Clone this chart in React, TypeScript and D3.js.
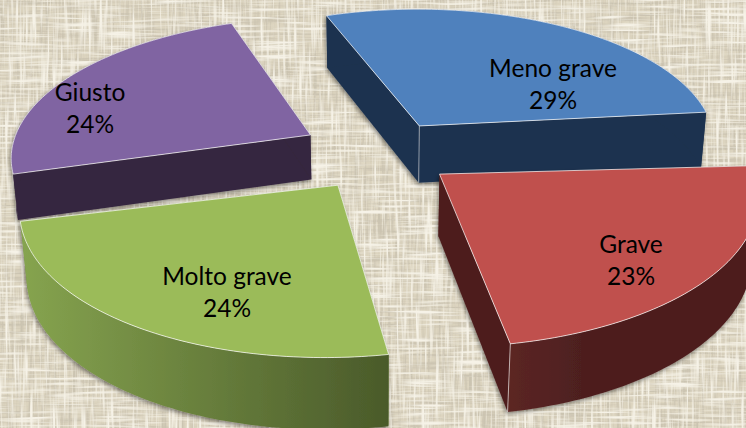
import React from "react";
import * as d3 from "d3";

const categories = ["Meno grave", "Grave", "Molto grave", "Giusto"];
const values = [29, 23, 24, 24];
const topColors = ["#4f81bd", "#c0504d", "#9bbb59", "#8064a2"];
const sideColors = ["#1f334f", "#4d1f1f", "#6d8840", "#35263f"];
const labelPos = [[553, 77], [631, 253], [227, 285], [90, 101]];

// perspective camera: world (x, y, z) to screen
const camU = [296.06, -77.2803, 6.40357, 382.594];
const camV = [9.51658, 117.649, 61.4249, 154.996];
const camW = [-6.9084e-3, -1.3237e-1, 1.6908e-2];
// exploded offset, depth, small rotation and radius of each slice
const offsets = [[0.10653, -0.22448], [0.19799, 0.12061], [-0.12558, 0.22208], [-0.25751, -0.12817]];
const depths = [1, 1.0625, 1.11303, 0.77778];
const turns = [-0.0336, 0.0176, 0.0263, -0.025];
const radii = [1.0076, 1.0373, 1.0122, 0.9974];

const START = (-23 * Math.PI) / 180;
const pie = d3.pie<number>().sort(null).startAngle(START).endAngle(START + 2 * Math.PI);
const arcs = pie(values);

function proj(x: number, y: number, z: number) {
  const w = camW[0] * x + camW[1] * y + camW[2] * z + 1;
  return [
    (camU[0] * x + camU[1] * y + camU[2] * z + camU[3]) / w,
    (camV[0] * x + camV[1] * y + camV[2] * z + camV[3]) / w,
  ];
}
function at(i: number, r: number, a0: number, z: number) {
  const a = a0 + turns[i];
  const rr = r * radii[i];
  return proj(offsets[i][0] + rr * Math.sin(a), offsets[i][1] - rr * Math.cos(a), z * depths[i]);
}
function arcPts(i: number, z: number, n = 80) {
  const { startAngle: s, endAngle: t } = arcs[i];
  return d3.range(n + 1).map((k) => at(i, 1, s + ((t - s) * k) / n, z));
}
const line = d3.line();
const poly = (pts: number[][]) => line(pts as [number, number][]) + "Z";
const strand = (dark: boolean) =>
  dark
    ? "0 0 0 0 0.60  0 0 0 0 0.55  0 0 0 0 0.44  3.4 0 0 0 -1.55"
    : "0 0 0 0 0.92  0 0 0 0 0.89  0 0 0 0 0.80  3.2 0 0 0 -1.5";
const weave: [string, string, number, boolean][] = [
  ["a", "0.02 0.42", 3, true],
  ["b", "0.42 0.02", 8, true],
  ["c", "0.02 0.36", 14, false],
  ["d", "0.36 0.02", 21, false],
];

export default function App() {
  return (
    <svg width={746} height={428} style={{ position: "absolute", left: 0, top: 0 }}>
      <defs>
        {weave.map(([id, f, s, dk]) => (
          <filter key={id} id={id} x="0" y="0" width="100%" height="100%">
            <feTurbulence type="fractalNoise" baseFrequency={f} numOctaves={2} seed={s} />
            <feColorMatrix type="matrix" values={strand(dk)} />
            <feGaussianBlur stdDeviation="0.6" />
          </filter>
        ))}
        <filter id="sh" x="-5%" y="-5%" width="110%" height="110%">
          <feDropShadow dx={-1} dy={2} stdDeviation={2} floodColor="#000" floodOpacity={0.45} />
        </filter>
        <linearGradient id="gs" x1="0" x2="1" y1="0" y2="0">
          <stop offset="0" stopColor="#86a44f" />
          <stop offset="1" stopColor="#4a5a2a" />
        </linearGradient>
        <linearGradient id="rs" x1="0" x2="1" y1="0" y2="0">
          <stop offset="0" stopColor="#5c2624" />
          <stop offset="0.3" stopColor="#4d1f1f" />
          <stop offset="1" stopColor="#4d1f1f" />
        </linearGradient>
      </defs>
      <rect width={746} height={428} fill="#dcd4bf" />
      {weave.map(([id]) => (
        <rect key={id} width={746} height={428} filter={`url(#${id})`} />
      ))}
      {[0, 3, 1, 2].map((i) => {
        const a = arcs[i];
        const apexT = at(i, 0, 0, 0);
        const apexB = at(i, 0, 0, 1);
        const sT = at(i, 1, a.startAngle, 0);
        const sB = at(i, 1, a.startAngle, 1);
        const eT = at(i, 1, a.endAngle, 0);
        const eB = at(i, 1, a.endAngle, 1);
        const top = arcPts(i, 0);
        const bot = arcPts(i, 1);
        const fill = i === 2 ? "url(#gs)" : i === 1 ? "url(#rs)" : sideColors[i];
        return (
          <g key={i}>
            <g filter="url(#sh)">
              <path d={poly([apexT, sT, sB, apexB])} fill={sideColors[i]} />
              <path d={poly([apexT, eT, eB, apexB])} fill={sideColors[i]} />
              <path d={poly([...top, ...bot.slice().reverse()])} fill={fill} />
            </g>
            <path d={poly([apexT, ...top])} fill={topColors[i]} stroke="#fff" strokeOpacity={0.7} strokeWidth={1} />
            {i === 0 ? <line x1={apexT[0]} y1={apexT[1]} x2={apexB[0]} y2={apexB[1]} stroke="#fff" strokeOpacity={0.5} /> : null}
            {i === 1 ? <line x1={eT[0]} y1={eT[1]} x2={eB[0]} y2={eB[1]} stroke="#fff" strokeOpacity={0.6} /> : null}
          </g>
        );
      })}
      {categories.map((c, i) => (
        <text key={c} x={labelPos[i][0]} y={labelPos[i][1]} textAnchor="middle" fontFamily="Lato" fontSize={24.5} fill="#000">
          <tspan x={labelPos[i][0]}>{c}</tspan>
          <tspan x={labelPos[i][0]} dy={32}>{values[i]}%</tspan>
        </text>
      ))}
    </svg>
  );
}
